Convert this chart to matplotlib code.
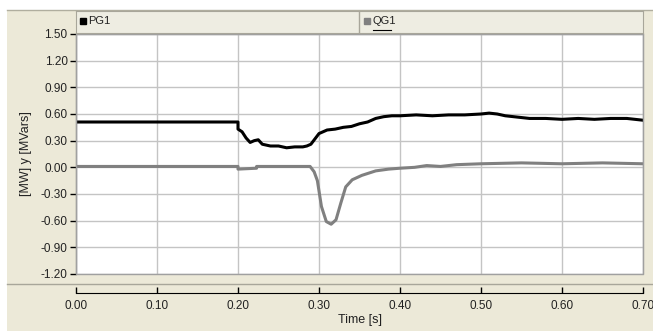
import matplotlib
matplotlib.use('Agg')
import matplotlib.pyplot as plt
from matplotlib.patches import Rectangle
from matplotlib.lines import Line2D

plt.rcParams['font.family'] = ['Liberation Sans', 'DejaVu Sans']

# PG1 (active power)
pgTime = [0.0, 0.2, 0.2, 0.205, 0.21, 0.215, 0.22, 0.225, 0.23, 0.24, 0.25, 0.26,
          0.27, 0.28, 0.285, 0.29, 0.295, 0.30, 0.305, 0.31, 0.32, 0.33, 0.34, 0.35,
          0.36, 0.37, 0.38, 0.39, 0.40, 0.42, 0.44, 0.46, 0.48, 0.50, 0.51, 0.52,
          0.53, 0.54, 0.55, 0.56, 0.58, 0.60, 0.62, 0.64, 0.66, 0.68, 0.70]
pgValue = [0.51, 0.51, 0.43, 0.40, 0.33, 0.28, 0.30, 0.31, 0.26, 0.24, 0.24, 0.22,
           0.23, 0.23, 0.24, 0.26, 0.32, 0.38, 0.40, 0.42, 0.43, 0.45, 0.46, 0.49,
           0.51, 0.55, 0.57, 0.58, 0.58, 0.59, 0.58, 0.59, 0.59, 0.60, 0.61, 0.60,
           0.58, 0.57, 0.56, 0.55, 0.55, 0.54, 0.55, 0.54, 0.55, 0.55, 0.53]

# QG1 (reactive power)
qgTime = [0.0, 0.2, 0.2, 0.223, 0.223, 0.289, 0.294, 0.298, 0.303, 0.309, 0.315,
          0.321, 0.327, 0.333, 0.341, 0.353, 0.37, 0.386, 0.40, 0.418, 0.433, 0.45,
          0.47, 0.50, 0.55, 0.60, 0.65, 0.70]
qgValue = [0.01, 0.01, -0.02, -0.01, 0.01, 0.01, -0.05, -0.15, -0.44, -0.61, -0.64,
           -0.59, -0.40, -0.22, -0.14, -0.09, -0.04, -0.02, -0.01, 0.0, 0.02, 0.01,
           0.03, 0.04, 0.05, 0.04, 0.05, 0.04]

xTicks = [0.0, 0.1, 0.2, 0.3, 0.4, 0.5, 0.6, 0.7]
yTicks = [1.5, 1.2, 0.9, 0.6, 0.3, 0.0, -0.3, -0.6, -0.9, -1.2]
seriesNames = ['PG1', 'QG1']
seriesColors = ['#000000', '#808080']

W, H = 653, 331
beige = '#ECE9D8'
textColor = '#222222'

fig = plt.figure(figsize=(W / 100, H / 100), dpi=100, facecolor='white')

def fx(px):
    return px / W

def fy(py):
    return 1 - py / H

# beige panel behind everything
fig.patches.append(Rectangle((fx(7), 0), 1 - fx(7), fy(10), transform=fig.transFigure,
                             facecolor=beige, edgecolor='none', zorder=-10))
fig.lines.append(Line2D([fx(7), 1], [fy(10), fy(10)], transform=fig.transFigure,
                        color='#b0ae9f', lw=1, zorder=-5))
fig.lines.append(Line2D([fx(7), 1], [fy(284), fy(284)], transform=fig.transFigure,
                        color='#a8a69a', lw=1, zorder=-5))

left, right, top, bottom = 76, 643, 34, 274
ax = fig.add_axes([fx(left), fy(bottom), fx(right - left), (bottom - top) / H])
ax.set_facecolor('white')

ax.plot(qgTime, qgValue, color=seriesColors[1], lw=2.2, zorder=3)
ax.plot(pgTime, pgValue, color=seriesColors[0], lw=2.2, zorder=4)

ax.set_xlim(0, 0.7)
ax.set_ylim(-1.2, 1.5)
ax.set_xticks(xTicks)
ax.set_yticks(yTicks)
ax.set_xticklabels(['%.2f' % t for t in xTicks])
ax.set_yticklabels(['%.2f' % v for v in yTicks])
ax.grid(True, color='#c4c4c4', lw=1)
ax.set_axisbelow(True)

for s in ['top', 'right']:
    ax.spines[s].set_color('#a0a0a0')
ax.spines['left'].set_color('black')
ax.spines['bottom'].set_position(('outward', 14))
ax.spines['bottom'].set_color('black')
ax.add_patch(Rectangle((0, 0), 1, 1, transform=ax.transAxes, fill=False,
                       edgecolor='#a0a0a0', lw=1, clip_on=False, zorder=5))

ax.tick_params(axis='y', direction='out', length=4, width=1, colors='black',
               labelcolor=textColor, labelsize=8.5, pad=2)
ax.tick_params(axis='x', direction='in', length=4, width=1, colors='black',
               labelcolor=textColor, labelsize=8.5, pad=5)
ax.set_xlabel('Time [s]', fontsize=9, color=textColor, labelpad=1)
ax.set_ylabel('[MW] y [MVars]', fontsize=9, color=textColor, labelpad=6)

# legend band
lg = fig.add_axes([fx(left), fy(33), fx(right - left), 22 / H])
lg.set_facecolor('#EEEDE2')
lg.set_xlim(0, 1)
lg.set_ylim(0, 1)
lg.set_xticks([])
lg.set_yticks([])
for s in lg.spines.values():
    s.set_color('#a8a69a')
divider = (359 - left) / (right - left)
lg.axvline(divider, color='#a8a69a', lw=1)
for i, name in enumerate(seriesNames):
    x0 = [0.006, divider + 0.008][i]
    lg.plot([x0 + 0.006], [0.55], marker='s', ms=5, color=seriesColors[i], ls='none')
    lg.text(x0 + 0.016, 0.55, name, fontsize=8, color=textColor, va='center')
lg.plot([divider + 0.024, divider + 0.056], [0.12, 0.12], color='black', lw=0.8)

fig.savefig('out.png', dpi=100, facecolor='white')
